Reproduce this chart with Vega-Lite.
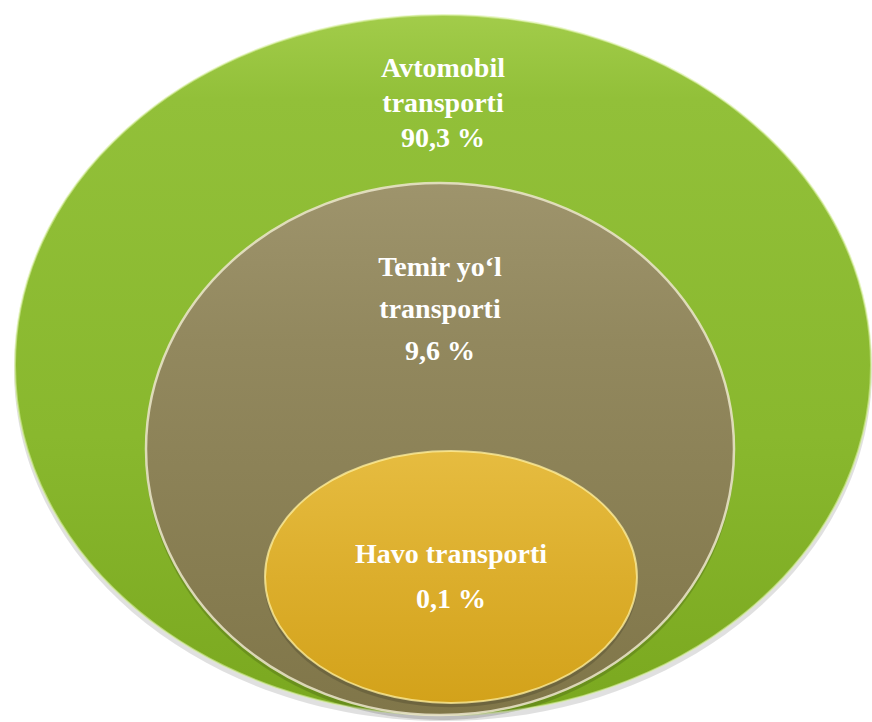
{
  "$schema": "https://vega.github.io/schema/vega-lite/v6.json",
  "width": 872,
  "height": 722,
  "autosize": {"type": "none"},
  "padding": 0,
  "background": "#ffffff",
  "config": {"view": {"stroke": null}},
  "data": {
    "values": [
      {"name": "Avtomobil transporti", "label": "Avtomobil\ntransporti\n90,3 %", "share": 90.3},
      {"name": "Temir yo‘l transporti", "label": "Temir yo‘l\ntransporti\n9,6 %", "share": 9.6},
      {"name": "Havo transporti", "label": "Havo transporti\n0,1 %", "share": 0.1}
    ]
  },
  "encoding": {
    "x": {"field": "share", "type": "quantitative", "axis": null,
          "scale": {"domain": [0.1, 9.6, 90.3], "range": [451, 440, 443], "nice": false, "zero": false}},
    "y": {"field": "share", "type": "quantitative", "axis": null,
          "scale": {"domain": [0.1, 9.6, 90.3], "range": [577, 449, 365], "nice": false, "zero": false}}
  },
  "layer": [
    {
      "transform": [{"filter": "datum.share == 90.3"}],
      "mark": {"type": "point", "filled": true, "opacity": 1, "fill": "#000000", "fillOpacity": 0.12,
               "shape": "M-1,0.012A1,0.818,0,1,0,1,0.012A1,0.818,0,1,0,-1,0.012Z",
               "size": 736000}
    },
    {
      "transform": [{"filter": "datum.share == 90.3"}],
      "mark": {"type": "point", "filled": true, "opacity": 1,
               "shape": "M-1,0A1,0.818,0,1,0,1,0A1,0.818,0,1,0,-1,0Z",
               "size": 732736,
               "fill": {"gradient": "linear", "x1": 0, "y1": 0, "x2": 0, "y2": 1,
                        "stops": [{"offset": 0, "color": "#a2cc4a"}, {"offset": 0.12, "color": "#92c039"}, {"offset": 0.6, "color": "#89b82e"}, {"offset": 1, "color": "#7aa81f"}]},
               "stroke": "#d9f0a0", "strokeWidth": 2, "strokeOpacity": 0.6}
    },
    {
      "transform": [{"filter": "datum.share == 9.6"}],
      "mark": {"type": "point", "filled": true, "opacity": 1, "fill": "#000000", "fillOpacity": 0.15,
               "shape": "M-1,0.015A1,0.905,0,1,0,1,0.015A1,0.905,0,1,0,-1,0.015Z",
               "size": 347000}
    },
    {
      "transform": [{"filter": "datum.share == 9.6"}],
      "mark": {"type": "point", "filled": true, "opacity": 1,
               "shape": "M-1,0A1,0.905,0,1,0,1,0A1,0.905,0,1,0,-1,0Z",
               "size": 345744,
               "fill": {"gradient": "linear", "x1": 0, "y1": 0, "x2": 0, "y2": 1,
                        "stops": [{"offset": 0, "color": "#9e946c"}, {"offset": 0.3, "color": "#92885e"}, {"offset": 1, "color": "#807649"}]},
               "stroke": "#ece6cc", "strokeWidth": 2.5, "strokeOpacity": 0.85}
    },
    {
      "transform": [{"filter": "datum.share == 0.1"}],
      "mark": {"type": "point", "filled": true, "opacity": 1, "fill": "#000000", "fillOpacity": 0.15,
               "shape": "M-1,0.02A1,0.677,0,1,0,1,0.02A1,0.677,0,1,0,-1,0.02Z",
               "size": 139500}
    },
    {
      "transform": [{"filter": "datum.share == 0.1"}],
      "mark": {"type": "point", "filled": true, "opacity": 1,
               "shape": "M-1,0A1,0.677,0,1,0,1,0A1,0.677,0,1,0,-1,0Z",
               "size": 138384,
               "fill": {"gradient": "linear", "x1": 0, "y1": 0, "x2": 0, "y2": 1,
                        "stops": [{"offset": 0, "color": "#e6bc40"}, {"offset": 0.5, "color": "#dcae2c"}, {"offset": 1, "color": "#d3a21a"}]},
               "stroke": "#fff0a0", "strokeWidth": 2, "strokeOpacity": 0.75}
    },
    {
      "transform": [{"filter": "datum.share == 90.3"}],
      "mark": {"type": "text", "color": "#ffffff", "font": "Liberation Serif", "fontWeight": "bold",
               "fontSize": 28, "lineBreak": "\n", "lineHeight": 35, "align": "center", "baseline": "middle"},
      "encoding": {
        "text": {"field": "label"},
        "y": {"field": "share", "type": "quantitative", "axis": null,
              "scale": {"domain": [0.1, 90.3], "range": [0, 69], "nice": false, "zero": false}}
      }
    },
    {
      "transform": [{"filter": "datum.share == 9.6"}],
      "mark": {"type": "text", "color": "#ffffff", "font": "Liberation Serif", "fontWeight": "bold",
               "fontSize": 28, "lineBreak": "\n", "lineHeight": 42, "align": "center", "baseline": "middle"},
      "encoding": {
        "text": {"field": "label"},
        "y": {"field": "share", "type": "quantitative", "axis": null,
              "scale": {"domain": [0.1, 9.6], "range": [0, 268], "nice": false, "zero": false}}
      }
    },
    {
      "transform": [{"filter": "datum.share == 0.1"}],
      "mark": {"type": "text", "color": "#ffffff", "font": "Liberation Serif", "fontWeight": "bold",
               "fontSize": 28, "lineBreak": "\n", "lineHeight": 45, "align": "center", "baseline": "middle"},
      "encoding": {
        "text": {"field": "label"},
        "y": {"field": "share", "type": "quantitative", "axis": null,
              "scale": {"domain": [0, 0.1], "range": [0, 555], "nice": false, "zero": false}}
      }
    }
  ],
  "resolve": {"scale": {"y": "independent"}}
}
